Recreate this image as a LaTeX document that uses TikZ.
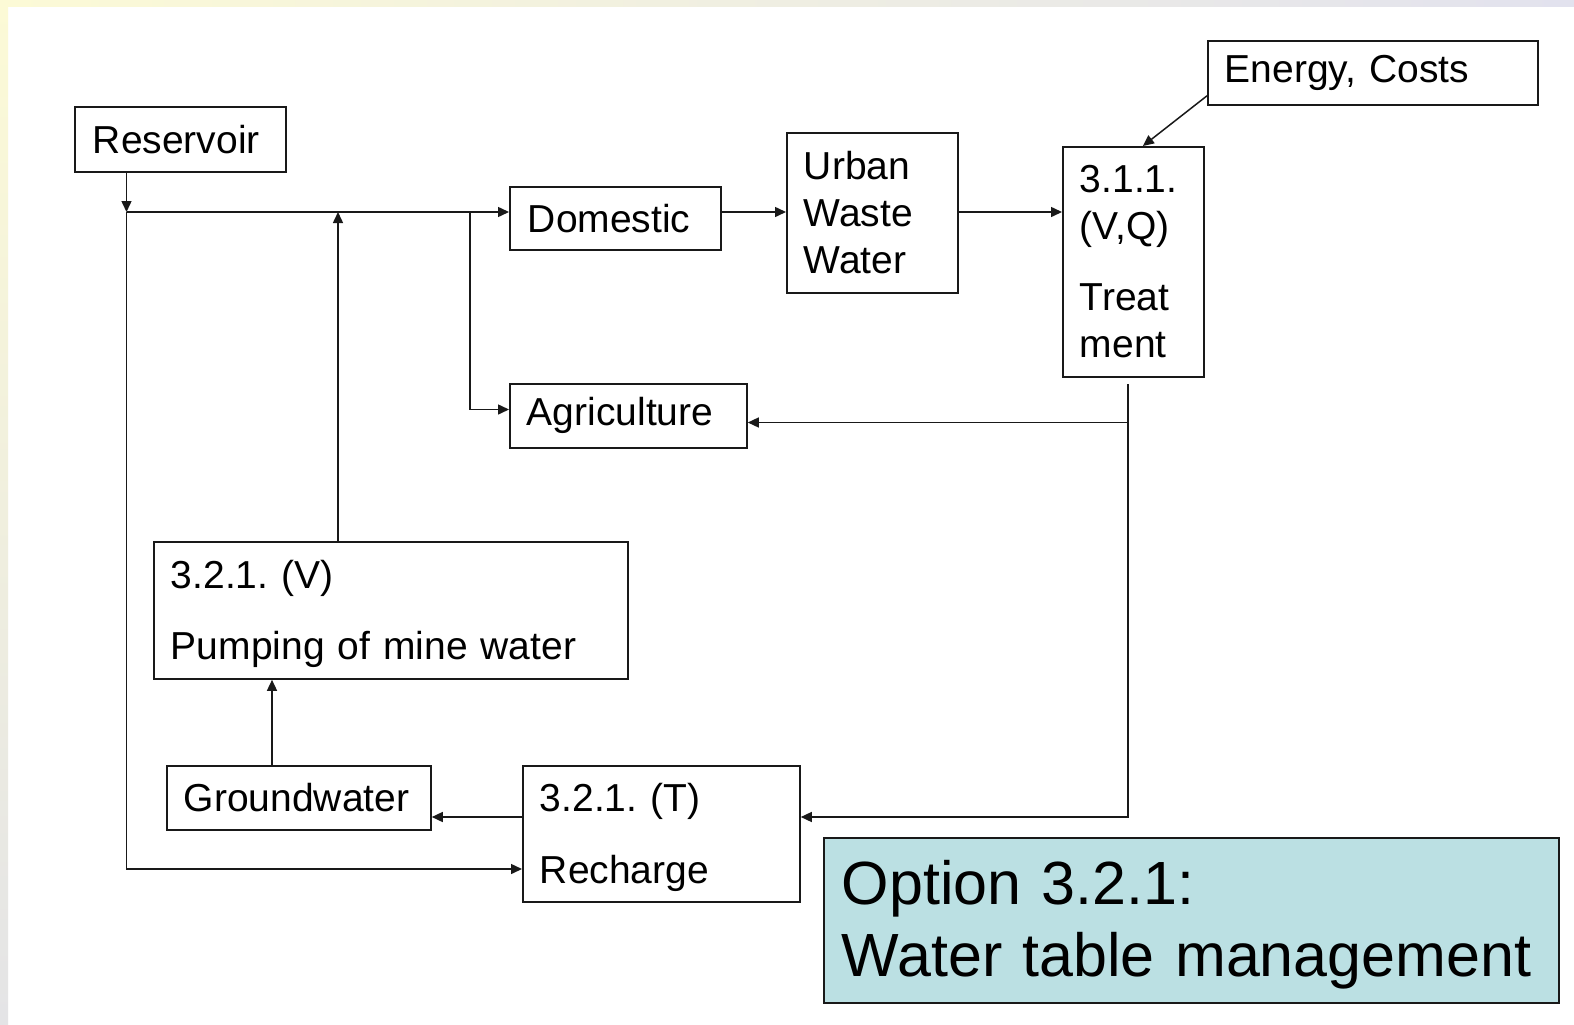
\documentclass[tikz,border=0pt]{standalone}
\usepackage{fontspec}
\setmainfont{Liberation Sans}
\usetikzlibrary{arrows.meta,calc}
\definecolor{ink}{RGB}{25,25,25}
\definecolor{optfill}{RGB}{187,224,227}
\definecolor{stripY}{RGB}{252,250,214}
\definecolor{stripL}{RGB}{226,226,238}
\definecolor{stripG}{RGB}{228,228,230}
\tikzset{
  box/.style={draw=ink, line width=1.8pt, rectangle, anchor=north west, inner ysep=0pt,
    inner xsep=17pt, align=left, font=\fontsize{39}{47}\selectfont\frenchspacing},
  arr/.style={draw=ink, line width=1.5pt, -{Triangle[length=11pt,width=10pt]}},
  ln/.style={draw=ink, line width=1.5pt}
}
\begin{document}
\begin{tikzpicture}[x=1pt,y=-1pt]
\useasboundingbox (0,0) rectangle (1574,1025);
\fill[white] (0,0) rectangle (1574,1025);
\shade[left color=stripY, right color=stripL] (0,0) rectangle (1574,7);
\shade[top color=stripY, bottom color=stripG] (0,0) rectangle (8,1025);

% boxes
\node[box, text width=175pt, minimum height=65pt, inner xsep=18pt] (res) at (74,106) {Reservoir};
\node[box, text width=296pt, minimum height=64pt] (energy) at (1207,40) {Energy, Costs};
\node[box, text width=175pt, minimum height=63pt, inner xsep=18pt] (dom) at (509,186) {Domestic};
\node[box, text width=137pt, minimum height=160pt] (urban) at (786,132) {Urban\\Waste\\Water};
\node[box, text width=107pt, minimum height=230pt] (treat) at (1062,146) {3.1.1.\\(V,Q)\\[24pt]Treat\\ment};
\node[box, text width=203pt, minimum height=64pt] (agri) at (509,383) {Agriculture};
\node[box, text width=440pt, minimum height=137pt] (pump) at (153,541) {\rule{0pt}{35pt}3.2.1. (V)\\[24pt]Pumping of mine water};
\node[box, text width=230pt, minimum height=64pt] (gw) at (166,765) {Groundwater};
\node[box, text width=243pt, minimum height=136pt] (rech) at (522,765) {\rule{0pt}{36pt}3.2.1. (T)\\[25pt]Recharge};
\node[box, fill=optfill, text width=699pt, minimum height=165pt, inner xsep=18pt,
  font=\fontsize{61}{72}\selectfont\frenchspacing] (opt) at (823,837) {\rule{0pt}{52pt}Option 3.2.1:\\Water table management};

% junction coordinates
\coordinate (j1) at (126.5,212);
\coordinate (j2) at (470,212);
\coordinate (j4) at (126.5,869);
\coordinate (j5) at (338,212);
\coordinate (j6) at (470,409.5);
\coordinate (t0) at (1128,384);
\coordinate (j3) at (1128,422.5);
\coordinate (j7) at (1128,817);
\coordinate (j8) at (272,0);

% connectors
\draw[arr] (res.south -| j1) -- (j1);
\draw[arr] (j1) -- (dom.west |- j1);
\draw[arr] (j1) -- (j4) -- (rech.west |- j4);
\draw[arr] (pump.north -| j5) -- (j5);
\draw[arr] (j2) -- (j6) -- (agri.west |- j6);
\draw[arr] (dom.east |- j1) -- (urban.west |- j1);
\draw[arr] (urban.east |- j1) -- (treat.west |- j1);
\draw[arr] ($(energy.south west)+(0,-10)$) -- ($(treat.north)+(9.5,0)$);
\draw[arr] (t0) -- (j7) -- (rech.east |- j7);
\draw[arr] (j3) -- (agri.east |- j3);
\draw[arr] (rech.west |- j7) -- (gw.east |- j7);
\draw[arr] (gw.north -| j8) -- (pump.south -| j8);
\end{tikzpicture}
\end{document}
